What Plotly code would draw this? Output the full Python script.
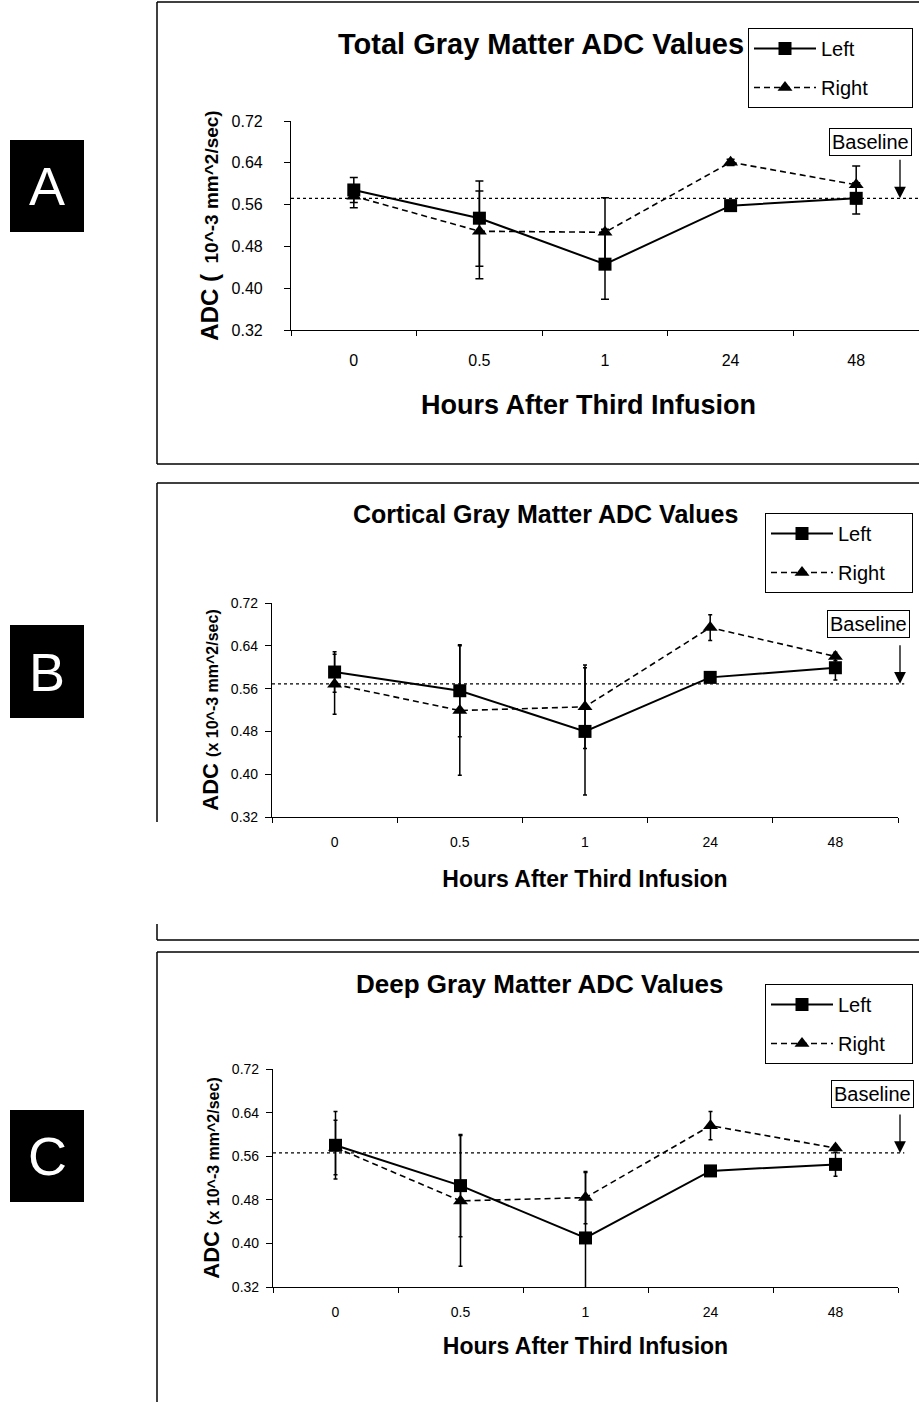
import plotly.graph_objects as go

# ---------------- data ----------------
hours = ["0", "0.5", "1", "24", "48"]

# Panel A: Total gray matter
a_left = [0.588, 0.534, 0.446, 0.558, 0.572]
a_left_up = [0.024, 0.071, 0.067, 0.006, 0.030]
a_left_dn = [0.024, 0.092, 0.067, 0.006, 0.030]
a_right = [0.576, 0.509, 0.507, 0.641, 0.598]
a_right_up = [0.020, 0.077, 0.066, 0.006, 0.036]
a_right_dn = [0.022, 0.091, 0.066, 0.006, 0.036]
a_base = 0.572

# Panel B: Cortical gray matter
b_left = [0.591, 0.556, 0.480, 0.581, 0.599]
b_left_err = [0.038, 0.086, 0.119, 0.005, 0.023]
b_right = [0.568, 0.519, 0.526, 0.674, 0.620]
b_right_err = [0.056, 0.121, 0.078, 0.024, 0.008]
b_base = 0.569

# Panel C: Deep gray matter
c_left = [0.580, 0.506, 0.410, 0.533, 0.545]
c_left_err = [0.062, 0.094, 0.120, 0.005, 0.022]
c_right = [0.576, 0.478, 0.484, 0.616, 0.575]
c_right_err = [0.050, 0.120, 0.048, 0.026, 0.005]
c_base = 0.566

y_ticks = [0.32, 0.40, 0.48, 0.56, 0.64, 0.72]

titles = ["Total Gray Matter ADC Values", "Cortical Gray Matter ADC Values",
          "Deep Gray Matter ADC Values"]
letters = ["A", "B", "C"]
x_title = "Hours After Third Infusion"

W, H = 919, 1402
FONT = "Liberation Sans, Arial, sans-serif"
NB = "\u00a0"
pads = [7, 4, 4]  # trailing spaces widen each legend box towards the right edge


def px(x):
    return x / W


def py(y):
    return 1 - y / H


fig = go.Figure()

panels = [
    dict(left=a_left, lup=a_left_up, ldn=a_left_dn, right=a_right, rup=a_right_up, rdn=a_right_dn,
         base=a_base, cap=4),
    dict(left=b_left, lup=b_left_err, ldn=b_left_err, right=b_right, rup=b_right_err, rdn=b_right_err,
         base=b_base, cap=2),
    dict(left=c_left, lup=c_left_err, ldn=c_left_err, right=c_right, rup=c_right_err, rdn=c_right_err,
         base=c_base, cap=2),
]

for i, p in enumerate(panels):
    n = "" if i == 0 else str(i + 1)
    leg = "legend" + n
    pad = NB * pads[i]
    fig.add_trace(go.Scatter(
        x=hours, y=p["left"], name="Left" + pad, mode="lines+markers",
        xaxis="x" + n, yaxis="y" + n, legend=leg, legendgroup="L" + n,
        line=dict(color="black", width=2),
        marker=dict(symbol="square", size=13, color="black"),
        error_y=dict(type="data", symmetric=False, array=p["lup"], arrayminus=p["ldn"],
                     color="black", thickness=1.5, width=p["cap"]),
    ))
    fig.add_trace(go.Scatter(
        x=hours, y=p["right"], name="Right" + pad, mode="lines+markers",
        xaxis="x" + n, yaxis="y" + n, legend=leg, legendgroup="R" + n,
        line=dict(color="black", width=1.6, dash="6px,4px"),
        marker=dict(symbol="triangle-up", size=13, color="black"),
        error_y=dict(type="data", symmetric=False, array=p["rup"], arrayminus=p["rdn"],
                     color="black", thickness=1.5, width=p["cap"]),
    ))

# axis geometry (pixels)
geo = [
    dict(x0=291, x1=919, yt=121, yb=330, tick=16, xtitle=27,
         ylab="<b>ADC (</b><b><span style='font-size:19px'>\u00a0\u00a010^-3 mm^2/sec)</span></b>",
         ytitle=24, xstand=22, ystand=26, xts=16, show_xt=False),
    dict(x0=272, x1=898, yt=603, yb=817, tick=14, xtitle=23,
         ylab="<b>ADC</b> <b><span style='font-size:16px'>(x 10^-3 mm^2/sec)</span></b>",
         ytitle=22, xstand=21, ystand=12, xts=12, show_xt=True),
    dict(x0=273, x1=898, yt=1069, yb=1287, tick=14, xtitle=23,
         ylab="<b>ADC</b> <b><span style='font-size:16px'>(x 10^-3 mm^2/sec)</span></b>",
         ytitle=22, xstand=18, ystand=12, xts=12, show_xt=True),
]

layout = {}
annotations = []
for i, g in enumerate(geo):
    n = "" if i == 0 else str(i + 1)
    xt = "<b>%s</b>" % x_title if g["show_xt"] else ""
    layout["xaxis" + n] = dict(
        domain=[px(g["x0"]), px(g["x1"])], anchor="y" + n, type="category",
        categoryorder="array", categoryarray=hours, range=[-0.5, 4.5],
        tickson="boundaries", ticks="outside", ticklen=5, tickcolor="black",
        showline=True, linecolor="black", linewidth=1.2, showgrid=False, zeroline=False,
        tickfont=dict(size=g["tick"], family=FONT, color="black"),
        ticklabelstandoff=g["xts"],
        title=dict(text=xt, standoff=g["xstand"],
                   font=dict(size=g["xtitle"], family=FONT, color="black")),
        fixedrange=True,
    )
    if not g["show_xt"]:
        # panel A: x-axis title sits left of the axis centre in the original
        annotations.append(dict(text="<b>%s</b>" % x_title, xref="paper", yref="paper",
                                x=px(588), y=py(405), xanchor="center", yanchor="middle",
                                showarrow=False,
                                font=dict(size=g["xtitle"], family=FONT, color="black")))
    layout["yaxis" + n] = dict(
        domain=[py(g["yb"]), py(g["yt"])], anchor="x" + n, range=[0.32, 0.72],
        tickvals=y_ticks, tickformat=".2f", ticks="outside", ticklen=6, tickcolor="black",
        showline=True, linecolor="black", linewidth=1.2, showgrid=False, zeroline=False,
        tickfont=dict(size=g["tick"], family=FONT, color="black"),
        ticklabelstandoff=g["ystand"] - 8,
        title=dict(text=g["ylab"], standoff=6,
                   font=dict(size=g["ytitle"], family=FONT, color="black")),
        fixedrange=True,
    )

shapes = []
bases = [a_base, b_base, c_base]
title_pos = [(541, 44, 29), (545, 514, 25), (540, 984, 26)]
legend_pos = [(748, 28), (765, 513), (765, 984)]
letter_box = [(10, 140, 84, 232), (10, 625, 84, 718), (10, 1110, 84, 1202)]
baseline_box = [(870, 142, 200), (868, 624, 681), (872, 1094, 1150)]

for i in range(3):
    n = "" if i == 0 else str(i + 1)
    # baseline dashed line
    shapes.append(dict(type="line", xref="x" + n + " domain", yref="y" + n,
                       x0=0, x1=1.01, y0=bases[i], y1=bases[i],
                       line=dict(color="black", width=1.2, dash="3px,3px")))
    # titles
    tx, ty, ts = title_pos[i]
    annotations.append(dict(text="<b>%s</b>" % titles[i], xref="paper", yref="paper",
                            x=px(tx), y=py(ty), xanchor="center", yanchor="middle",
                            showarrow=False,
                            font=dict(size=ts, family=FONT, color="black")))
    # letter boxes
    lx0, ly0, lx1, ly1 = letter_box[i]
    shapes.append(dict(type="rect", xref="paper", yref="paper", x0=px(lx0), x1=px(lx1),
                       y0=py(ly1), y1=py(ly0), fillcolor="black", line=dict(width=0)))
    annotations.append(dict(text=letters[i], xref="paper", yref="paper",
                            x=px((lx0 + lx1) / 2), y=py((ly0 + ly1) / 2),
                            xanchor="center", yanchor="middle", showarrow=False,
                            font=dict(size=54, family=FONT, color="white")))
    # Baseline label and arrow
    bx, by, tip = baseline_box[i]
    annotations.append(dict(text="Baseline", xref="paper", yref="paper", x=px(bx), y=py(by),
                            xanchor="center", yanchor="middle",
                            showarrow=False, bordercolor="black", borderwidth=1, borderpad=2,
                            bgcolor="white", font=dict(size=20, family=FONT, color="black")))
    annotations.append(dict(text="", xref="paper", yref="y" + n, x=px(900), y=bases[i],
                            ax=0, ay=-40, showarrow=True, arrowhead=2, arrowsize=1.8,
                            arrowwidth=1.3, arrowcolor="black"))
    # legend
    lgx, lgy = legend_pos[i]
    layout["legend" + n] = dict(x=px(lgx), y=py(lgy), xanchor="left", yanchor="top",
                                bordercolor="black", borderwidth=1, bgcolor="white",
                                font=dict(size=20, family=FONT, color="black"),
                                tracegroupgap=10, itemwidth=62)

# panel frames
frames = [
    (157, 2, 464, [(2, 464)]),
    (157, 483, 940, [(483, 822), (924, 940)]),
    (157, 952, 1402, [(952, 1402)]),
]
for fx, top, bot, lefts in frames:
    shapes.append(dict(type="line", xref="paper", yref="paper", x0=px(fx), x1=1,
                       y0=py(top), y1=py(top), line=dict(color="black", width=1.5)))
    if bot < 1400:
        shapes.append(dict(type="line", xref="paper", yref="paper", x0=px(fx), x1=1,
                           y0=py(bot), y1=py(bot), line=dict(color="black", width=1.5)))
    for s, e in lefts:
        shapes.append(dict(type="line", xref="paper", yref="paper", x0=px(fx), x1=px(fx),
                           y0=py(s), y1=py(e), line=dict(color="black", width=1.5)))

fig.update_layout(
    width=W, height=H, margin=dict(l=0, r=0, t=0, b=0, autoexpand=False),
    paper_bgcolor="white", plot_bgcolor="white",
    font=dict(family=FONT, color="black"),
    shapes=shapes, annotations=annotations, showlegend=True,
    **layout,
)

fig.write_html("out.html", config={"displayModeBar": False},
               post_script="document.body.style.margin='0';")
